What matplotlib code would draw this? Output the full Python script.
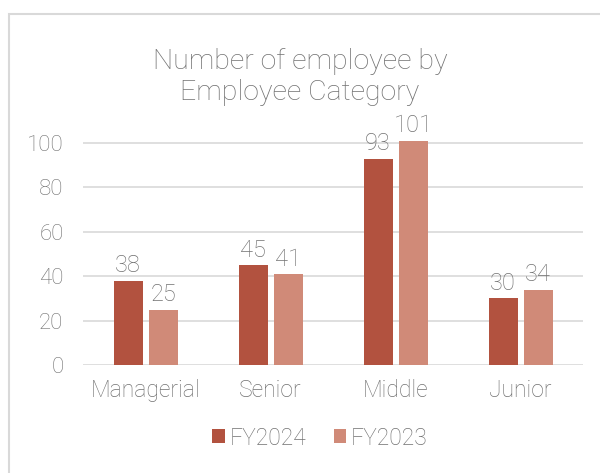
import numpy as np
import matplotlib.pyplot as plt
from matplotlib.patches import Rectangle

categories = ['Managerial', 'Senior', 'Middle', 'Junior']
fy2024 = [38, 45, 93, 30]
fy2023 = [25, 41, 101, 34]

c24 = '#B2523F'
c23 = '#D08A78'
tc = '#717171'
fs = 16
fam = ['Roboto', 'DejaVu Sans']

plt.rcParams['font.family'] = fam
plt.rcParams['font.weight'] = 'light'

ymax = 101.5
px_per = (365 - 143) / 100
top = 365 - ymax * px_per

fig = plt.figure(figsize=(6, 4.73), dpi=100)
ax = fig.add_axes([83 / 600, 1 - 365 / 473, 500 / 600, (365 - top) / 473])

x = np.arange(len(categories))
w = 0.232
gap = 0.048
b1 = ax.bar(x - (w + gap) / 2, fy2024, w, color=c24, label='FY2024', zorder=3)
b2 = ax.bar(x + (w + gap) / 2, fy2023, w, color=c23, label='FY2023', zorder=3)
for bars in (b1, b2):
    for r in bars:
        ax.text(r.get_x() + r.get_width() / 2, r.get_height() + 1.5, f"{int(r.get_height())}",
                ha='center', va='bottom', fontsize=fs + 1, color=tc)

ax.set_xlim(-0.5, 3.5)
ax.set_ylim(0, ymax)
ax.set_yticks(range(0, 101, 20))
ax.set_xticks(x)
ax.set_xticklabels(categories)
ax.tick_params(axis='both', length=0, labelsize=fs, labelcolor=tc)
ax.tick_params(axis='x', labelsize=fs + 0.5)
ax.tick_params(axis='y', pad=14)
ax.tick_params(axis='x', pad=10)
ax.grid(axis='y', color='#D9D9D9', linewidth=1.2, zorder=0)
for s in ax.spines.values():
    s.set_visible(False)
ax.set_axisbelow(True)

fig.text(0.5, 1 - 77 / 473, 'Number of employee by\nEmployee Category', ha='center', va='center',
         fontsize=20.5, color=tc, linespacing=1.15)

fig.legend(handles=[b1, b2], loc='center', bbox_to_anchor=(320 / 600, 1 - 438 / 473), ncol=2, frameon=False,
           fontsize=fs + 0.5, labelcolor=tc, handlelength=0.55, handleheight=0.55, handletextpad=0.2,
           columnspacing=1.2)

fig.patches.append(Rectangle((9 / 600, -0.1), 1.2, 1 - 14 / 473 + 0.1, transform=fig.transFigure,
                             fill=False, edgecolor='#D9D9D9', linewidth=1.5))

fig.savefig('out.png', dpi=100)
